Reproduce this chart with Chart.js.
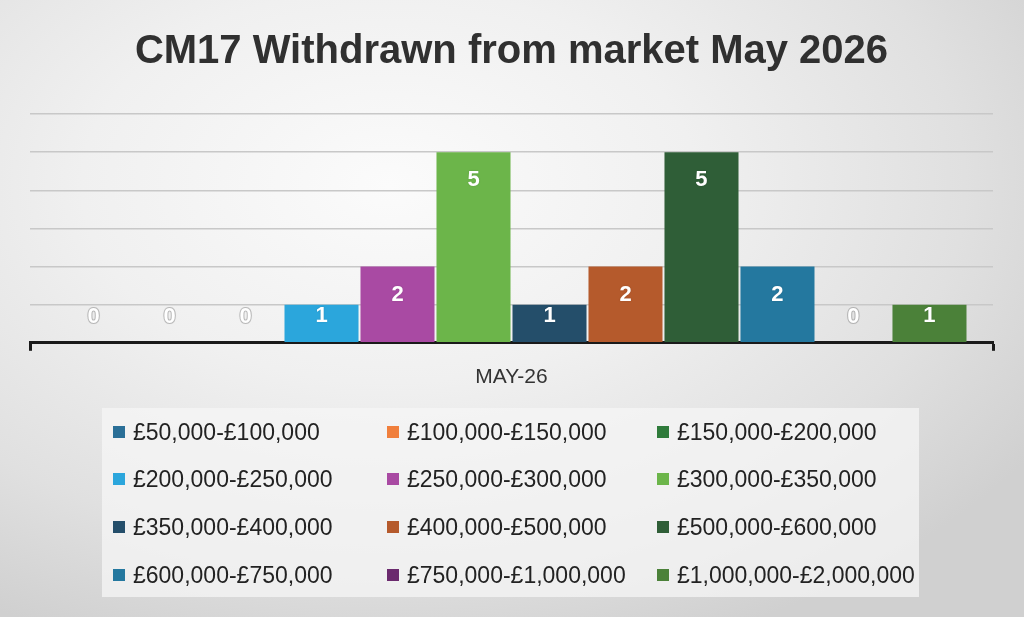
<!DOCTYPE html>
<html>
<head>
<meta charset="utf-8">
<script src="https://cdn.jsdelivr.net/npm/chart.js@4.4.1/dist/chart.umd.min.js"></script>
<style>
  html, body { margin: 0; padding: 0; }
  body {
    width: 1024px; height: 617px; overflow: hidden; position: relative;
    background: radial-gradient(ellipse 75% 80% at 38% 30%, #fbfbfb 0%, #f0f0f0 40%, #e0e0e0 75%, #d0d0d0 100%);
    font-family: "Liberation Sans", Arial, sans-serif;
  }
  #wrap { position: absolute; left: 0; top: 0; width: 1024px; height: 617px; }
  #legend {
    position: absolute; left: 102px; top: 408px; width: 817px; height: 189px;
    background: rgba(245,245,245,0.75);
  }
  .li { position: absolute; height: 28px; display: flex; align-items: center; white-space: nowrap;
        font-size: 23px; color: #222; }
  .sw { width: 12px; height: 12px; margin-right: 8px; flex: none; }
</style>
</head>
<body>
<div id="wrap"><canvas id="c" width="1024" height="617"></canvas></div>
<div id="legend"></div>
<script>
const titleText = "CM17 Withdrawn from market May 2026";
const categories = ["MAY-26"];
const seriesNames = [
  "£50,000-£100,000", "£100,000-£150,000", "£150,000-£200,000",
  "£200,000-£250,000", "£250,000-£300,000", "£300,000-£350,000",
  "£350,000-£400,000", "£400,000-£500,000", "£500,000-£600,000",
  "£600,000-£750,000", "£750,000-£1,000,000", "£1,000,000-£2,000,000"
];
const seriesValues = [0, 0, 0, 1, 2, 5, 1, 2, 5, 2, 0, 1];
const seriesColors = [
  "#2a6f97", "#f07f3c", "#2f7b3b",
  "#2ba6dc", "#a94aa3", "#6cb54a",
  "#244e6a", "#b55a2c", "#2f5e37",
  "#24789f", "#6b2a6e", "#4b8139"
];
const yTicks = [0, 1, 2, 3, 4, 5, 6];

const datasets = seriesNames.map((name, i) => ({
  label: name,
  data: [seriesValues[i]],
  backgroundColor: seriesColors[i],
  borderWidth: 0,
  barPercentage: 0.974,
  categoryPercentage: 0.947
}));

const valueLabels = {
  id: 'valueLabels',
  afterDatasetsDraw(chart) {
    const ctx = chart.ctx;
    ctx.save();
    ctx.font = 'bold 22px "Liberation Sans", Arial, sans-serif';
    ctx.textAlign = 'center';
    ctx.textBaseline = 'middle';
    chart.data.datasets.forEach((ds, i) => {
      const meta = chart.getDatasetMeta(i);
      meta.data.forEach((bar, j) => {
        const v = ds.data[j];
        const ty = Math.min(bar.y + 28, bar.base - 26);
        if (v === 0) {
          ctx.lineWidth = 2;
          ctx.strokeStyle = 'rgba(150,150,150,0.55)';
          ctx.strokeText(String(v), bar.x, ty);
        }
        ctx.shadowColor = 'rgba(0,0,0,0.15)';
        ctx.shadowBlur = 2;
        ctx.fillStyle = '#ffffff';
        ctx.fillText(String(v), bar.x, ty);
        ctx.shadowBlur = 0;
      });
    });
    ctx.restore();
  }
};

new Chart(document.getElementById('c'), {
  type: 'bar',
  data: { labels: categories, datasets },
  options: {
    responsive: false,
    animation: false,
    devicePixelRatio: 1,
    layout: { padding: { left: 30, right: 31, top: 0, bottom: 213 } },
    plugins: {
      legend: { display: false },
      tooltip: { enabled: false },
      title: {
        display: true,
        text: titleText,
        color: '#303030',
        font: { size: 40, weight: 'bold', family: '"Liberation Sans", Arial, sans-serif' },
        padding: { top: 28, bottom: 38 }
      }
    },
    scales: {
      x: {
        grid: { display: true, offset: true, drawOnChartArea: false, drawTicks: true,
                tickLength: 8, tickColor: '#1a1a1a', tickWidth: 3 },
        border: { display: true, color: '#1a1a1a', width: 3 },
        ticks: { color: '#333', padding: 14, font: { size: 21, family: '"Liberation Sans", Arial, sans-serif' } }
      },
      y: {
        min: yTicks[0], max: yTicks[yTicks.length - 1],
        afterBuildTicks(scale) { scale.ticks = yTicks.map(v => ({ value: v })); },
        ticks: { display: false },
        grid: { color: '#c8c8c8', lineWidth: 1.5, drawTicks: false },
        border: { display: false }
      }
    }
  },
  plugins: [valueLabels]
});

// legend (HTML, built from the arrays)
const legend = document.getElementById('legend');
const colX = [11, 285, 555];
const rowY = [10, 57, 105, 153];
seriesNames.forEach((name, i) => {
  const el = document.createElement('div');
  el.className = 'li';
  el.style.left = colX[i % 3] + 'px';
  el.style.top = rowY[Math.floor(i / 3)] + 'px';
  const sw = document.createElement('span');
  sw.className = 'sw';
  sw.style.background = seriesColors[i];
  const tx = document.createElement('span');
  tx.textContent = name;
  el.appendChild(sw); el.appendChild(tx);
  legend.appendChild(el);
});
</script>
</body>
</html>
